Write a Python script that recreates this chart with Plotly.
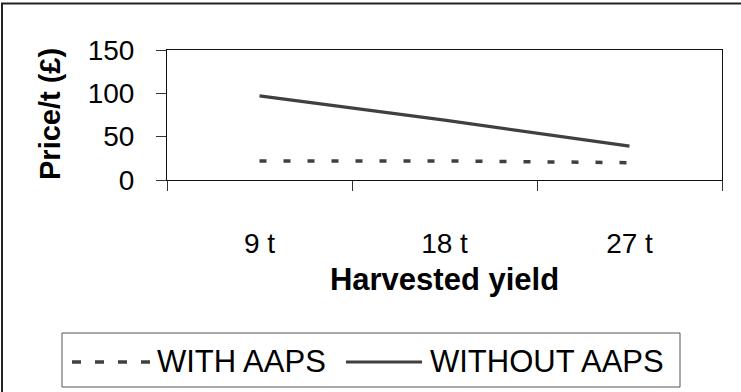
import plotly.graph_objects as go

# ---- data ----
categories = ["9 t", "18 t", "27 t"]
with_aaps = [22, 22, 20]
without_aaps = [97, 69, 39]
series_names = ["WITH AAPS", "WITHOUT AAPS"]
y_ticks = [0, 50, 100, 150]

# ---- style ----
W, H = 741, 392
L, R, T, B = 167, 19, 50, 212
FONT = "Liberation Sans, Arial, sans-serif"
LINE_COLOR = "#404040"
DASH = "7px,17px"

fig = go.Figure()
fig.add_trace(go.Scatter(x=categories, y=with_aaps, name=series_names[0], mode="lines",
                         line=dict(color=LINE_COLOR, width=3.5, dash=DASH), showlegend=False))
fig.add_trace(go.Scatter(x=categories, y=without_aaps, name=series_names[1], mode="lines",
                         line=dict(color=LINE_COLOR, width=3.2), showlegend=False))

pw, ph = W - L - R, H - T - B


def px_x(p):
    return (p - L) / pw


def px_y(p):
    return (H - B - p) / ph


shapes = []
# outer frame
shapes.append(dict(type="rect", xref="paper", yref="paper",
                   x0=px_x(2), x1=px_x(760), y0=px_y(410), y1=px_y(3.5),
                   line=dict(color="#222", width=2), fillcolor="rgba(0,0,0,0)", layer="below"))
# legend box
shapes.append(dict(type="rect", xref="paper", yref="paper",
                   x0=px_x(62), x1=px_x(680), y0=px_y(387), y1=px_y(333),
                   line=dict(color="#555", width=1), fillcolor="white"))
# legend samples
shapes.append(dict(type="line", xref="paper", yref="paper",
                   x0=px_x(72), x1=px_x(151), y0=px_y(362), y1=px_y(362),
                   line=dict(color=LINE_COLOR, width=3.5, dash="9px,14px")))
shapes.append(dict(type="line", xref="paper", yref="paper",
                   x0=px_x(346), x1=px_x(422), y0=px_y(362), y1=px_y(362),
                   line=dict(color=LINE_COLOR, width=3.2)))

annotations = [
    dict(text=series_names[0], xref="paper", yref="paper", x=px_x(155), y=px_y(361),
         xanchor="left", yanchor="middle", showarrow=False,
         font=dict(family=FONT, size=31, color="black")),
    dict(text=series_names[1], xref="paper", yref="paper", x=px_x(428), y=px_y(361),
         xanchor="left", yanchor="middle", showarrow=False,
         font=dict(family=FONT, size=31, color="black")),
    # y-axis title
    dict(text="<b>Price/t (£)</b>", xref="paper", yref="paper", x=px_x(50), y=px_y(114),
         xanchor="center", yanchor="middle", textangle=-90, showarrow=False,
         font=dict(family=FONT, size=29, color="black")),
]

fig.update_layout(
    width=W, height=H,
    margin=dict(l=L, r=R, t=T, b=B, autoexpand=False),
    paper_bgcolor="white", plot_bgcolor="white",
    font=dict(family=FONT, color="black"),
    shapes=shapes, annotations=annotations,
    showlegend=False,
)
fig.update_xaxes(
    type="category", range=[-0.5, 2.5], tickson="boundaries",
    ticks="outside", ticklen=10, tickcolor="#333", tickwidth=1,
    showline=True, linecolor="#111", linewidth=1, mirror=True,
    showgrid=False, zeroline=False,
    tickfont=dict(size=28, family=FONT), ticklabelstandoff=38,
    title=dict(text="<b>Harvested yield</b>", font=dict(size=31, family=FONT), standoff=10),
    automargin=False,
)
fig.update_yaxes(
    range=[0, 150], tickvals=y_ticks,
    ticks="outside", ticklen=10, tickcolor="#333", tickwidth=1,
    showline=True, linecolor="#111", linewidth=1, mirror=True,
    showgrid=False, zeroline=False,
    tickfont=dict(size=28, family=FONT), ticklabelstandoff=16,
    automargin=False,
)

fig.write_html("out.html")
